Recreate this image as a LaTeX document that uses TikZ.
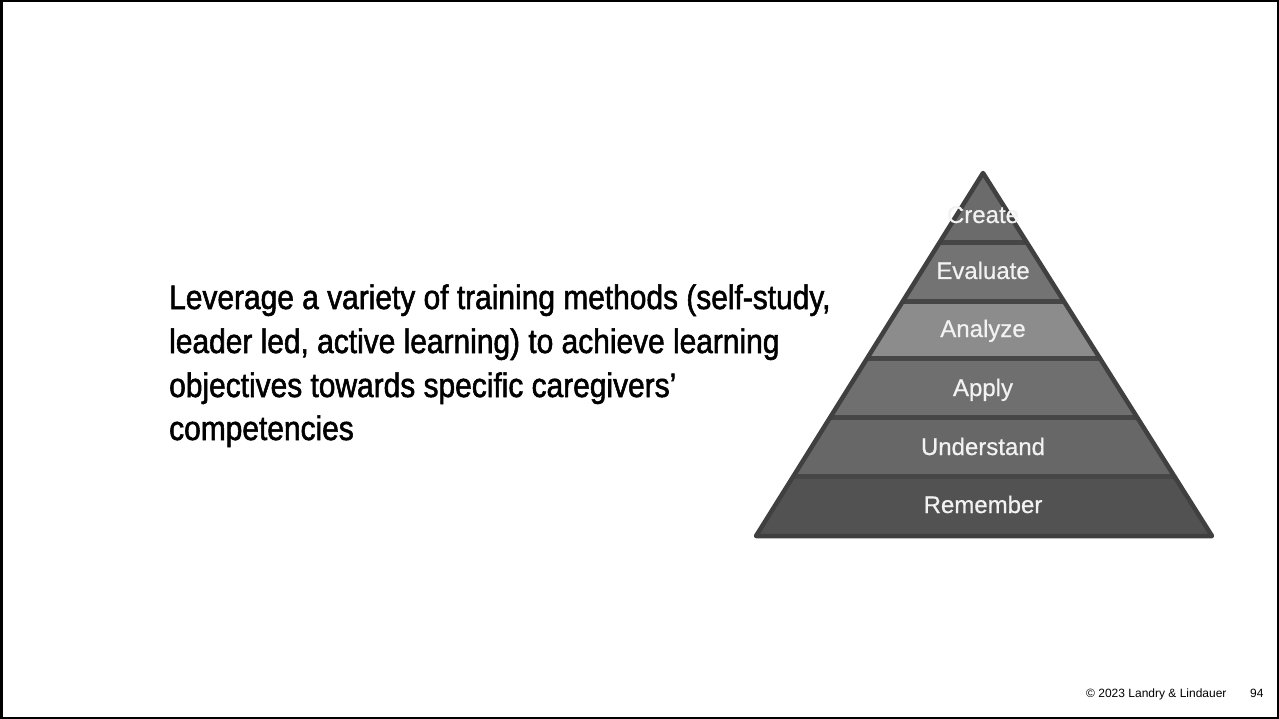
\documentclass[tikz,border=0pt]{standalone}
\usepackage{fontspec}
\setmainfont{Liberation Sans}
\newfontfamily\bodyfont[FakeStretch=0.88, FakeBold=1.6]{Liberation Sans}
\newfontfamily\levelfont[FakeBold=0.6]{Liberation Sans}
\definecolor{pyrline}{RGB}{64, 64, 64}
\definecolor{pyrsep}{RGB}{70, 70, 70}
\definecolor{lvcreate}{RGB}{107, 107, 107}
\definecolor{lvevaluate}{RGB}{115, 115, 115}
\definecolor{lvanalyze}{RGB}{140, 140, 140}
\definecolor{lvapply}{RGB}{111, 111, 111}
\definecolor{lvunderstand}{RGB}{103, 103, 103}
\definecolor{lvremember}{RGB}{82, 82, 82}
\definecolor{lvtext}{RGB}{242, 242, 242}

\begin{document}
\begin{tikzpicture}[x=1pt, y=-1pt, font=\fontsize{24}{28}\selectfont,
		levellabel/.style={text=lvtext, inner sep=0pt, anchor=base, font=\levelfont\fontsize{24}{28}\selectfont},
		bodyline/.style={anchor=base west, inner sep=0pt, font=\bodyfont\fontsize{34}{44}\selectfont},
		footline/.style={anchor=base west, inner sep=0pt, font=\fontsize{12}{14}\selectfont}]
			% Rahmen
			\useasboundingbox (0,0) rectangle (1279,719);
			\draw[line width=2.5pt] (1.25,1.25) rectangle (1277.75,717.75);
			% Text links
			\foreach \n/\y/\txt in {1/309/{Leverage a variety of training methods (self-study,},
					2/353/{leader led, active learning) to achieve learning},
					3/397/{objectives towards specific caregivers’},
					4/440/{competencies}}
				\node[bodyline] (line\n) at (169,\y) {\txt};
			% Pyramide
			\coordinate (apex) at (983,173);
			\coordinate (baseL) at (756,536);
			\coordinate (baseR) at (1212,536);
			\begin{scope}
				\clip (apex) -- (baseR) -- (baseL) -- cycle;
				\foreach \top/\bot/\col in {173/243/lvcreate, 243/301/lvevaluate,
						301/358/lvanalyze, 358/417/lvapply,
						417/476/lvunderstand, 476/536/lvremember}
					\fill[\col] (740,\top) rectangle (1230,\bot);
				% Trennlinien
				\foreach \y in {243,301,358,417,476}
					\draw[pyrsep, line width=5pt] (740,\y) -- (1230,\y);
			\end{scope}
			\draw[pyrline, line width=4.5pt, line join=round] (apex) -- (baseR) -- (baseL) -- cycle;
			% Stufen beschriften
			\foreach \ly/\lab in {223/Create, 279/Evaluate, 337/Analyze,
					396/Apply, 455/Understand, 513/Remember}
				\node[levellabel] (\lab) at (983,\ly) {\lab};
			% Fusszeile
			\node[footline] (copy) at (1086,697) {© 2023 Landry \& Lindauer};
			\node[footline] (page) at (1250,697) {94};
		\end{tikzpicture}
\end{document}
